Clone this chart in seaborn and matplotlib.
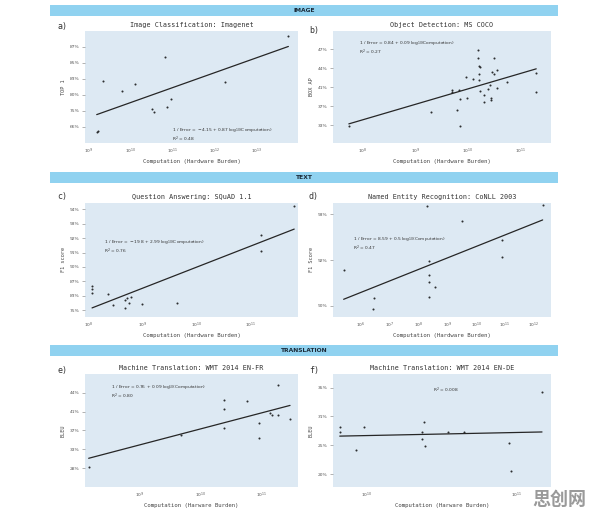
import numpy as np
import matplotlib
matplotlib.use("Agg")
import matplotlib.pyplot as plt
import seaborn as sns
from matplotlib.ticker import FuncFormatter, LogLocator, NullLocator, FixedLocator

# values: log10 of computation, metric in %
a_log_comp = [9.18, 9.22, 9.32, 9.78, 10.10, 10.49, 10.55, 10.80, 10.86, 10.96, 12.25, 13.76]
a_top1 = [63.1, 63.9, 82.9, 80.9, 82.3, 75.7, 74.5, 86.4, 76.5, 79.0, 82.7, 88.5]

b_log_comp = [7.74, 9.29, 9.69, 9.69, 9.78, 9.83, 9.84, 9.84, 9.96, 9.97, 10.10, 10.18,
              10.19, 10.20, 10.22, 10.20, 10.21, 10.22, 10.31, 10.31, 10.37, 10.41, 10.43,
              10.44, 10.46, 10.49, 10.49, 10.55, 10.55, 10.73, 11.29, 11.29]
b_box_ap = [33.2, 36.3, 40.7, 40.2, 36.6, 40.7, 38.9, 33.2, 42.9, 39.1, 42.6, 47.3,
            46.1, 44.8, 44.7, 43.5, 42.4, 40.5, 39.8, 38.3, 40.9, 41.6, 39.2,
            38.8, 43.9, 46.1, 43.5, 41.0, 44.2, 42.1, 43.7, 40.2]

c_log_comp = [8.07, 8.07, 8.07, 8.36, 8.46, 8.68, 8.68, 8.72, 8.76, 8.79, 9.00, 9.64, 11.19, 11.19, 11.80]
c_f1 = [86.5, 85.5, 84.5, 83.9, 78.7, 81.6, 77.1, 82.6, 80.0, 82.8, 79.3, 80.0, 93.1, 91.8, 94.6]

d_log_comp = [5.39, 6.40, 6.44, 8.28, 8.35, 8.35, 8.35, 8.35, 8.57, 9.49, 10.89, 10.89, 12.31]
d_f1 = [92.04, 90.79, 91.19, 93.48, 92.29, 91.89, 91.70, 91.21, 91.55, 93.19, 92.80, 92.39, 93.51]

e_log_comp = [8.17, 9.68, 10.38, 10.38, 10.38, 10.76, 10.96, 10.96, 11.14, 11.17, 11.26, 11.27, 11.46]
e_bleu = [29.0, 36.6, 43.2, 41.7, 38.0, 43.1, 39.1, 35.9, 41.0, 40.5, 40.5, 45.6, 39.8]

f_log_comp = [9.82, 9.82, 9.93, 9.98, 10.38, 10.37, 10.37, 10.39, 10.54, 10.65, 10.95, 10.96, 11.17]
f_bleu = [29.2, 28.3, 25.1, 29.2, 30.1, 28.3, 27.2, 25.9, 28.3, 28.4, 26.3, 20.7, 34.9]

sections = ["IMAGE", "TEXT", "TRANSLATION"]

panels = [
    dict(tag="a)", title="Image Classification: Imagenet", ylabel="TOP 1",
         xlabel="Computation (Hardware Burden)", x=a_log_comp, y=a_top1,
         yticks=[3, 4, 5, 6, 7, 8], xlim=(8.90, 13.99), ylim=(2.0, 8.98),
         eq="1 / Error =  \u22124.15 + 0.87 log$_{10}$(Computation)", r2="R$^2$ = 0.48",
         eqpos=(0.41, 0.15), box=(85, 298, 31, 143), tagpos=(57, 26)),
    dict(tag="b)", title="Object Detection: MS COCO", ylabel="BOX AP",
         xlabel="Computation (Hardware Burden)", x=b_log_comp, y=b_box_ap,
         yticks=[1.5, 1.6, 1.7, 1.8, 1.9], xlim=(7.44, 11.57), ylim=(1.405, 1.997),
         eq="1 / Error = 0.84 + 0.09 log$_{10}$(Computation)", r2="R$^2$ = 0.27",
         eqpos=(0.12, 0.93), box=(333, 551, 31, 143), tagpos=(309, 31)),
    dict(tag="c)", title="Question Answering: SQuAD 1.1", ylabel="F1 score",
         xlabel="Computation (Hardware Burden)", x=c_log_comp, y=c_f1,
         yticks=[4, 6, 8, 10, 12, 14, 16, 18], xlim=(7.94, 11.87), ylim=(3.07, 18.87),
         eq="1 / Error =  \u221219.8 + 2.99 log$_{10}$(Computation)", r2="R$^2$ = 0.76",
         eqpos=(0.09, 0.69), box=(85, 298, 203, 317), tagpos=(57, 197)),
    dict(tag="d)", title="Named Entity Recognition: CoNLL 2003", ylabel="F1 Score",
         xlabel="Computation (Hardware Burden)", x=d_log_comp, y=d_f1,
         yticks=[11, 13, 15], xlim=(5.02, 12.60), ylim=(10.52, 15.49),
         eq="1 / Error = 8.59 + 0.5 log$_{10}$(Computation)", r2="R$^2$ = 0.47",
         eqpos=(0.09, 0.72), box=(333, 551, 203, 317), tagpos=(309, 197)),
    dict(tag="e)", title="Machine Translation: WMT 2014 EN-FR", ylabel="BLEU",
         xlabel="Computation (Harware Burden)", x=e_log_comp, y=e_bleu,
         yticks=[1.4, 1.5, 1.6, 1.7, 1.8], xlim=(8.11, 11.59), ylim=(1.301, 1.899),
         eq="1 / Error = 0.76 + 0.09 log$_{10}$(Computation)", r2="R$^2$ = 0.80",
         eqpos=(0.12, 0.92), box=(85, 298, 374, 487), tagpos=(57, 371)),
    dict(tag="f)", title="Machine Translation: WMT 2014 EN-DE", ylabel="BLEU",
         xlabel="Computation (Harware Burden)", x=f_log_comp, y=f_bleu,
         yticks=[1.25, 1.35, 1.45, 1.55], xlim=(9.775, 11.23), ylim=(1.206, 1.597),
         eq=None, r2="R$^2$ = 0.008",
         eqpos=(0.52, 0.90), box=(333, 551, 374, 487), tagpos=(309, 370)),
]

sns.set_theme(style="white", rc={"axes.facecolor": "#dde9f3"})
plt.rcParams["font.family"] = ["DejaVu Sans", "Noto Sans CJK SC"]

W, H = 596, 519
fig = plt.figure(figsize=(W / 100, H / 100), dpi=100)
fig.patch.set_facecolor("white")

mono = "DejaVu Sans Mono"
pct = FuncFormatter(lambda v, p: f"{int(np.floor(100 * (1 - 1 / v) + 1e-6))}%")

# section banners
for i, name in enumerate(sections):
    top = [5, 172, 345][i]
    bax = fig.add_axes([50 / W, 1 - (top + 11) / H, 508 / W, 11 / H])
    bax.set_facecolor("#90d2f0")
    bax.set_xticks([])
    bax.set_yticks([])
    for s in bax.spines.values():
        s.set_visible(False)
    bax.text(0.5, 0.5, name, ha="center", va="center", fontsize=4.3,
             fontweight="bold", color="#1b2a38", transform=bax.transAxes)

for p in panels:
    l, r, t, b = p["box"]
    ax = fig.add_axes([l / W, 1 - b / H, (r - l) / W, (b - t) / H])
    comp = 10 ** np.array(p["x"])
    inv_err = 1 / (1 - np.array(p["y"]) / 100)
    sns.regplot(x=comp, y=inv_err, logx=True, ci=None, ax=ax, color="black",
                scatter_kws={"s": 2.2, "linewidths": 0},
                line_kws={"color": "#262626", "lw": 0.9})
    ax.set_xscale("log")
    ax.set_xlim(10 ** p["xlim"][0], 10 ** p["xlim"][1])
    ax.set_ylim(*p["ylim"])
    ax.xaxis.set_major_locator(LogLocator(base=10, numticks=20))
    ax.xaxis.set_minor_locator(NullLocator())
    ax.yaxis.set_major_locator(FixedLocator(p["yticks"]))
    ax.yaxis.set_major_formatter(pct)
    ax.tick_params(axis="both", labelsize=3.2, labelcolor="#555555", pad=2)
    ax.tick_params(axis="y", length=2, width=0.4, color="#777777", left=True)
    ax.tick_params(axis="x", length=0, pad=2.5)
    for s in ax.spines.values():
        s.set_visible(False)
    ax.set_title(p["title"], fontsize=4.9, family=mono, color="#333333", pad=3)
    ax.set_xlabel(p["xlabel"], fontsize=4.1, family=mono, color="#444444", labelpad=2.5)
    ax.set_ylabel(p["ylabel"], fontsize=3.8, family=mono, color="#444444", labelpad=3)
    tx, ty = p["tagpos"]
    fig.text(tx / W, 1 - ty / H, p["tag"], fontsize=6, family=mono,
             color="#333333", va="center", ha="left")
    ex, ey = p["eqpos"]
    if p["eq"]:
        ax.text(ex, ey, p["eq"] + "\n" + p["r2"], transform=ax.transAxes,
                fontsize=3.2, color="#333333", va="top", ha="left", linespacing=1.1)
    else:
        ax.text(ex, ey, p["r2"], transform=ax.transAxes,
                fontsize=3.2, color="#333333", va="top", ha="center")

fig.text(559 / W, 1 - 499 / H, "思创网", fontsize=13, fontweight="bold",
         family=["Noto Sans CJK SC"], color="#9a9a9a", ha="center", va="center")

fig.savefig("out.png", dpi=100)
